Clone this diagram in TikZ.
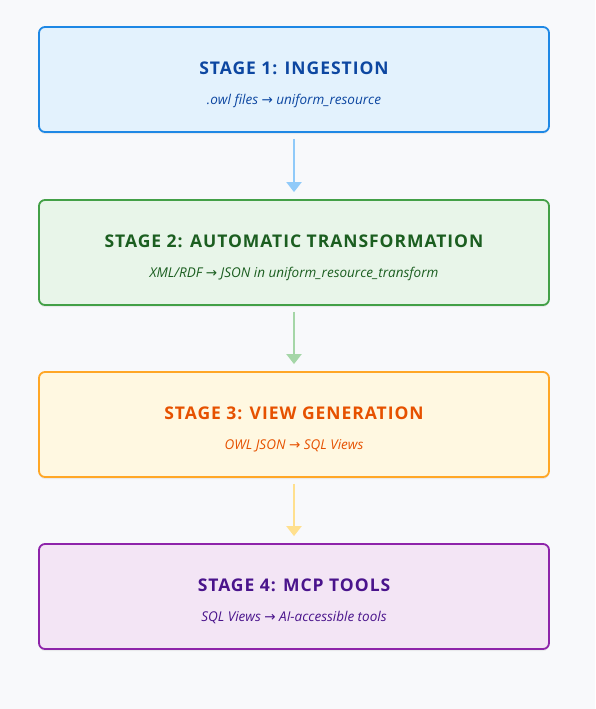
\documentclass[tikz,border=0pt]{standalone}
\usepackage{fontspec}
\setmainfont{Open Sans}
\newfontfamily\arrowfont{DejaVu Sans}
\usetikzlibrary{positioning,arrows.meta,shadows}
\definecolor{bgcol}{HTML}{F8F9FB}
\definecolor{blueline}{HTML}{1E88E5}
\definecolor{bluefill}{HTML}{E3F2FD}
\definecolor{bluetext}{HTML}{0D47A1}
\definecolor{bluearrow}{HTML}{90CAF9}
\definecolor{greenline}{HTML}{43A047}
\definecolor{greenfill}{HTML}{E8F5E9}
\definecolor{greentext}{HTML}{1B5E20}
\definecolor{greenarrow}{HTML}{A5D6A7}
\definecolor{orangeline}{HTML}{FFA726}
\definecolor{orangefill}{HTML}{FFF8E1}
\definecolor{orangetext}{HTML}{E65100}
\definecolor{orangearrow}{HTML}{FFE08E}
\definecolor{purpleline}{HTML}{8E24AA}
\definecolor{purplefill}{HTML}{F3E5F5}
\definecolor{purpletext}{HTML}{4A148C}
\def\ra{{\arrowfont\char"2192}}
\newcommand{\stagetxt}[2]{{\fontsize{17.5}{20}\selectfont\bfseries\addfontfeature{LetterSpace=5.5}#1}\\[18pt]{\fontsize{13.5}{15}\selectfont\itshape #2}}

\tikzset{
  stagebox/.style={draw, line width=1.8pt, rounded corners=6pt, minimum width=510pt,
    minimum height=105pt, inner sep=0pt,
    drop shadow={opacity=0.12, shadow xshift=0pt, shadow yshift=-2pt}},
  stagelabel/.style={align=center, inner sep=0pt},
  flowarrow/.style={line width=2pt, -{Triangle[width=15pt,length=10pt]},
    shorten <=6pt, shorten >=7pt}
}

\begin{document}
\begin{tikzpicture}[x=1pt,y=-1pt]
    \fill[bgcol] (0,0) rectangle (595,709);
    \useasboundingbox (0,0) rectangle (595,709);
    % the four stages
    \node[stagebox, draw=blueline, fill=bluefill] (ingest) at (294,79.5) {};
    \node[stagelabel, text=bluetext] (ingest-txt) at ([yshift=-5pt]ingest.center)
        {\stagetxt{STAGE 1: INGESTION}{.owl files \ra{} uniform\_resource}};
    \node[stagebox, draw=greenline, fill=greenfill] (transform) at (294,252.5) {};
    \node[stagelabel, text=greentext] (transform-txt) at ([yshift=-5pt]transform.center)
        {\stagetxt{STAGE 2: AUTOMATIC TRANSFORMATION}{XML/RDF \ra{} JSON in uniform\_resource\_transform}};
    \node[stagebox, draw=orangeline, fill=orangefill] (views) at (294,424.5) {};
    \node[stagelabel, text=orangetext] (views-txt) at ([yshift=-5pt]views.center)
        {\stagetxt{STAGE 3: VIEW GENERATION}{OWL JSON \ra{} SQL Views}};
    \node[stagebox, draw=purpleline, fill=purplefill] (tools) at (294,596.5) {};
    \node[stagelabel, text=purpletext] (tools-txt) at ([yshift=-5pt]tools.center)
        {\stagetxt{STAGE 4: MCP TOOLS}{SQL Views \ra{} AI-accessible tools}};
    % arrows
    \draw[flowarrow, bluearrow] (ingest) -- (transform);
    \draw[flowarrow, greenarrow] (transform) -- (views);
    \draw[flowarrow, orangearrow] (views) -- (tools);
\end{tikzpicture}
\end{document}
